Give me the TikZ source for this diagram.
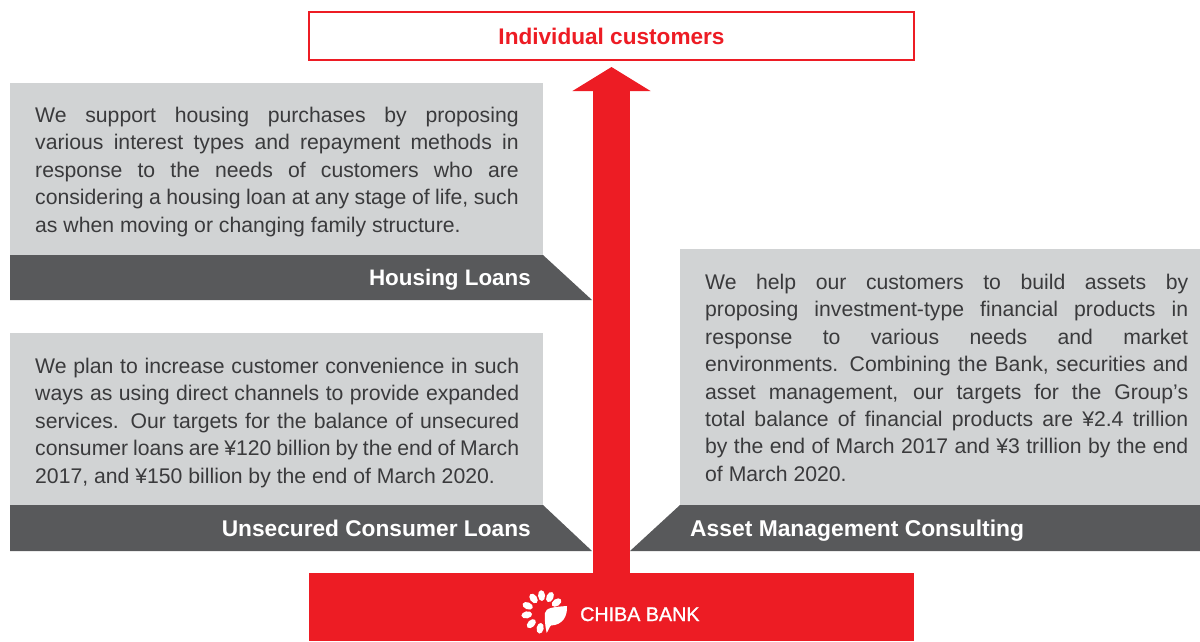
\documentclass[tikz,border=0pt]{standalone}
\usepackage{fontspec}
\setmainfont{Liberation Sans}
\newfontfamily\banklogofont[FakeBold=1.2]{Liberation Sans}
\usetikzlibrary{arrows.meta}
\definecolor{bankred}{HTML}{ED1C24}
\definecolor{panelgray}{HTML}{D1D3D4}
\definecolor{banddark}{HTML}{58595B}
\definecolor{bodyink}{HTML}{3A3A3C}
\tikzset{
  panel/.style={anchor=north west,inner sep=0pt,text width=#1,align=justify,text=bodyink,
    font=\fontsize{21.2}{27.4}\selectfont},
  bandlabel/.style={inner sep=0pt,text=white,font=\bfseries\fontsize{22.7}{26}\selectfont},
  petal/.style={fill=white,draw=none}
}
\newcommand{\nl}{\linebreak}
\begin{document}
\begin{tikzpicture}[x=1pt,y=-1pt]
\useasboundingbox (0,0) rectangle (1200,641);
% top and bottom
\node[draw=bankred,line width=2pt,fill=white,minimum width=605pt,minimum height=48pt,inner sep=0pt,
      text=bankred,font=\bfseries\fontsize{22.6}{26}\selectfont] (customers) at (611.5,36) {Individual customers};
\node[fill=bankred,minimum width=605pt,minimum height=68pt,inner sep=0pt] (bank) at (611.5,607) {};
\coordinate (tip) at (611.5,67);
\draw[bankred,line width=37pt,-{Triangle[width=77pt,length=24pt]}] (bank.north) -- (tip);
% housing
\fill[panelgray] (10,83) rectangle (543,255);
\fill[banddark] (10,255) -- (543,255) -- (592,300) -- (10,300) -- cycle;
\node[panel=483.5pt] (housingtext) at (35,107) {We support housing purchases by proposing\nl
various interest types and repayment methods in\nl
response to the needs of customers who are\nl
considering a housing loan at any stage of life, such\nl
as when moving or changing family structure.};
\node[bandlabel,anchor=base east,font=\bfseries\fontsize{22.4}{26}\selectfont] (housing) at (531,285) {Housing Loans};
% unsecured
\fill[panelgray] (10,333) rectangle (543,505);
\fill[banddark] (10,505) -- (543,505) -- (592,551) -- (10,551) -- cycle;
\node[panel=484pt] (unsecuredtext) at (35,358) {We plan to increase customer convenience in such\nl
ways as using direct channels to provide expanded\nl
services. Our targets for the balance of unsecured\nl
consumer loans are ¥120 billion by the end of March\nl
2017, and ¥150 billion by the end of March 2020.};
\node[bandlabel,anchor=base east] (unsecured) at (531,536) {Unsecured Consumer Loans};
% asset
\fill[panelgray] (680,249) rectangle (1200,505);
\fill[banddark] (680,505) -- (1200,505) -- (1200,551) -- (630,551) -- cycle;
\node[panel=483pt] (assettext) at (705,274) {We help our customers to build assets by\nl
proposing investment-type financial products in\nl
response to various needs and market\nl
environments. Combining the Bank, securities and\nl
asset management, our targets for the Group’s\nl
total balance of financial products are ¥2.4 trillion\nl
by the end of March 2017 and ¥3 trillion by the end\nl
of March 2020.};
\node[bandlabel,anchor=base west,font=\bfseries\fontsize{22.85}{26}\selectfont] (asset) at (690,536) {Asset Management Consulting};
% logo
\foreach \a in {95,65,35,125,158,-170,-135,-100}{
  \fill[petal,shift={(543,612)},rotate=\a] (16.5,0) ellipse (5.4pt and 3.5pt);
}
\fill[petal] (546.7,633) .. controls (545,626) and (544.5,618) .. (545,613)
  .. controls (546,608) and (552,607) .. (567,606)
  .. controls (567.5,616) and (563,625) .. (551,625.5)
  .. controls (549,627) and (548.5,631) .. (546.7,633) -- cycle;
\node[inner sep=0pt,anchor=base west,text=white,font=\banklogofont\fontsize{19.7}{24}\selectfont] (banklabel) at (580,621) {CHIBA BANK};
\end{tikzpicture}
\end{document}
